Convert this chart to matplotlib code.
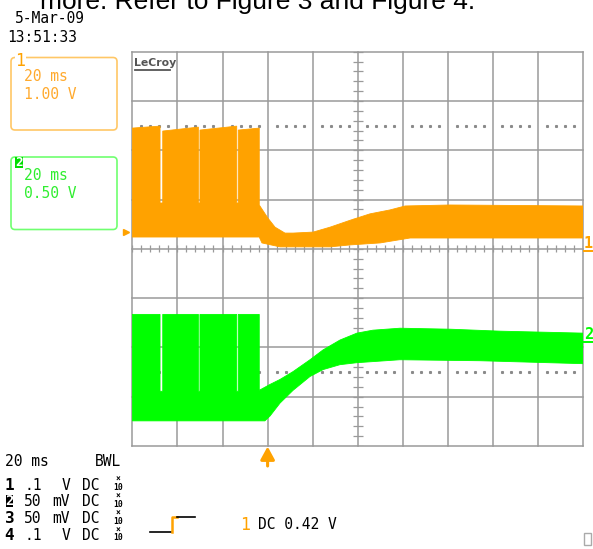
import numpy as np
import matplotlib
matplotlib.use("Agg")
import matplotlib.pyplot as plt
from matplotlib.patches import FancyBboxPatch, Rectangle

# ── Acquisition settings ──
TIME_PER_DIV = 20            # ms / div
T_START = -60                # ms, trigger sits 3 div from the left edge
N_XDIV, N_YDIV = 10, 8
CH1_VOLTS_PER_DIV = 1.00
CH2_VOLTS_PER_DIV = 0.50
CH1_OFFSET_DIV = 0.34        # ground level of channel 1 on screen
CH2_OFFSET_DIV = -3.49       # ground level of channel 2 on screen

# ── Channel 1 (orange): upper / lower envelope of the noisy trace (ms, V) ──
ch1_top_t = [-60, -47.7, -47.7, -46.5, -46.5, -30.7, -30.7, -30.0, -30.0,
             -13.7, -13.7, -13.0, -13.0, -3.7, -3.7, 0.2, 3.3, 7.7, 11.3,
             20.2, 27.7, 36.6, 45.4, 54.3, 61.0, 80.9, 140]
ch1_top_v = [2.11, 2.15, 0.59, 0.59, 2.05, 2.13, 0.59, 0.59, 2.07,
             2.15, 0.59, 0.59, 2.07, 2.11, 0.55, 0.28, 0.10, -0.02, -0.02,
             0.00, 0.10, 0.24, 0.37, 0.45, 0.53, 0.55, 0.53]
ch1_bot_t = [-60, -3.7, -2.5, 5.5, 27.7, 36.6, 49.9, 63.2, 140]
ch1_bot_v = [-0.10, -0.10, -0.22, -0.30, -0.30, -0.26, -0.22, -0.12, -0.12]

# ── Channel 2 (green) ──
ch2_top_t = [-60, -47.7, -47.7, -46.5, -46.5, -30.7, -30.7, -30.0, -30.0,
             -13.7, -13.7, -13.0, -13.0, -3.7, -3.7, 1.1, 5.5, 11.3, 18.8,
             24.6, 32.1, 39.6, 46.7, 58.7, 80.9, 103.1, 140]
ch2_top_v = [1.08, 1.08, 0.30, 0.30, 1.08, 1.08, 0.30, 0.30, 1.08,
             1.08, 0.30, 0.30, 1.08, 1.08, 0.31, 0.37, 0.42, 0.50, 0.62,
             0.72, 0.82, 0.89, 0.92, 0.94, 0.93, 0.91, 0.89]
ch2_bot_t = [-60, -3.8, -1.2, 1.1, 5.5, 11.3, 18.8, 24.6, 32.1, 39.6, 58.7, 94.2, 140]
ch2_bot_v = [0.00, 0.00, 0.00, 0.05, 0.18, 0.31, 0.45, 0.52, 0.57, 0.59, 0.62, 0.61, 0.58]

# ── Screen text ──
caption = "more. Refer to Figure 3 and Figure 4."
date_str, time_str = "5-Mar-09", "13:51:33"
ch_labels = [("1", "20 ms", "1.00 V"), ("2", "20 ms", "0.50 V")]
chan_rows = [("1", ".1", "V", "DC"), ("2", "50", "mV", "DC"),
             ("3", "50", "mV", "DC"), ("4", ".1", "V", "DC")]
timebase_str, bwl_str = "20 ms", "BWL"
trig_str = "DC 0.42 V"

ORANGE = "#ffa200"
GREEN = "#00ff00"
GRID = "#9a9a9a"
MONO = "DejaVu Sans Mono"


def to_div(volts, vpd, offset):
    return np.asarray(volts) / vpd + offset


fig = plt.figure(figsize=(5.93, 5.49), dpi=100)
W, H = 593, 549

# scope graticule (pixel box)
gl, gr, gt, gb = 132.3, 583.3, 51.7, 446.0
ax = fig.add_axes([gl / W, 1 - gb / H, (gr - gl) / W, (gb - gt) / H])
t_end = T_START + N_XDIV * TIME_PER_DIV
ax.set_xlim(T_START, t_end)
ax.set_ylim(-N_YDIV / 2, N_YDIV / 2)
ax.axis("off")

for t in np.arange(T_START, t_end + 1, TIME_PER_DIV):
    ax.plot([t, t], [-4, 4], color=GRID, lw=1.1, zorder=1, clip_on=False)
for d in range(-4, 5):
    ax.plot([T_START, t_end], [d, d], color=GRID, lw=1.1, zorder=1, clip_on=False)

# minor ticks on the centre axes
minor_t = np.arange(T_START, t_end + 0.1, TIME_PER_DIV / 5)
ax.vlines(minor_t, -0.07, 0.07, color=GRID, lw=0.9, zorder=1)
minor_d = np.arange(-4, 4.01, 0.2)
t_mid = (T_START + t_end) / 2
ax.hlines(minor_d, t_mid - 2.2, t_mid + 2.2, color=GRID, lw=0.9, zorder=1)

# dotted reference rows
dot_t = [t for t in minor_t if (t - T_START) % TIME_PER_DIV != 0]
for d in (2.5, -2.5):
    ax.plot(dot_t, [d] * len(dot_t), ls="none", marker="s", ms=1.2,
            color="#8a8a8a", zorder=1)

# traces
ax.fill(np.r_[ch1_top_t, ch1_bot_t[::-1]],
        np.r_[to_div(ch1_top_v, CH1_VOLTS_PER_DIV, CH1_OFFSET_DIV),
              to_div(ch1_bot_v, CH1_VOLTS_PER_DIV, CH1_OFFSET_DIV)[::-1]],
        color=ORANGE, lw=0.6, zorder=3)
ax.fill(np.r_[ch2_top_t, ch2_bot_t[::-1]],
        np.r_[to_div(ch2_top_v, CH2_VOLTS_PER_DIV, CH2_OFFSET_DIV),
              to_div(ch2_bot_v, CH2_VOLTS_PER_DIV, CH2_OFFSET_DIV)[::-1]],
        color=GREEN, lw=0.6, zorder=3)

# ground marker of channel 1
ax.plot(T_START - 2.6, CH1_OFFSET_DIV, marker=">", ms=5, color=ORANGE,
        clip_on=False, zorder=4)

# ── overlay in screen pixels for the annotations ──
ov = fig.add_axes([0, 0, 1, 1])
ov.set_xlim(0, W)
ov.set_ylim(H, 0)
ov.axis("off")

ov.text(40, 9.5, caption, family="Liberation Sans", fontsize=19,
        va="baseline", color="black")
ov.text(15, 23.3, date_str, family=MONO, fontsize=10.5, va="baseline")
ov.text(7, 41.5, time_str, family=MONO, fontsize=10.5, va="baseline")

# channel boxes
box_cfg = [(57.5, ORANGE, "#ffc766", "#ffaa2e"), (157.0, GREEN, "#70ff70", "#30ee30")]
for (num, tb, vd), (y0, c, edge, txt) in zip(ch_labels, box_cfg):
    ov.add_patch(FancyBboxPatch((11, y0), 106, 72.5,
                                boxstyle="round,pad=0,rounding_size=4",
                                fill=False, ec=edge, lw=1.2))
    ov.text(24, y0 + 23.2, tb, family=MONO, fontsize=10.5, va="baseline", color=txt)
    ov.text(24, y0 + 41.5, vd, family=MONO, fontsize=10.5, va="baseline", color=txt)
    if num == "1":
        ov.text(15.5, y0 + 8, num, family=MONO, fontsize=12, va="baseline",
                color=c, bbox=dict(fc="white", ec="none", pad=0.3))
    else:
        ov.add_patch(Rectangle((15, y0), 8, 11, fc="#00dd00", ec="none"))
        ov.text(19, y0 + 5.5, num, family=MONO, fontsize=9, ha="center",
                va="center", color="white", weight="bold")

# LeCroy logo
ov.text(134, 66.5, "LeCroy", family="DejaVu Sans", fontsize=7.8, weight="bold",
        color="#555555", va="baseline")
ov.plot([134.5, 170], [70, 70], color="#555555", lw=1.3)

# right-hand channel markers
for num, y, c in (("1", 248, ORANGE), ("2", 339, GREEN)):
    ov.text(584, y, num, family=MONO, fontsize=11, va="baseline", color=c,
            weight="bold")
    ov.plot([584, 593], [y + 2.5, y + 2.5], color=c, lw=1.4)

# trigger position arrow
ov.annotate("", xy=(267.6, 446.5), xytext=(267.6, 466),
            arrowprops=dict(arrowstyle="-|>,head_width=0.3,head_length=0.55",
                            color=ORANGE, lw=2.2, shrinkA=0, shrinkB=0,
                            mutation_scale=14))

# bottom status block
ov.text(5, 466, timebase_str, family=MONO, fontsize=10.5, va="baseline")
ov.text(95, 466, bwl_str, family=MONO, fontsize=10.5, va="baseline")
row_base = [489.5, 506.5, 523.3, 540.0]
for (num, val, unit, cpl), yb in zip(chan_rows, row_base):
    if num == "2":
        ov.add_patch(Rectangle((5.5, yb - 12), 7.5, 12.5, fc="black", ec="none"))
        ov.text(9.2, yb - 5.8, num, family=MONO, fontsize=10, ha="center",
                va="center", color="white", weight="bold")
    else:
        ov.text(4.5, yb, num, family=MONO, fontsize=11.5, va="baseline",
                weight="bold")
    ov.text(24, yb, val, family=MONO, fontsize=10.5, va="baseline")
    ov.text(62 if unit == "V" else 52, yb, unit, family=MONO, fontsize=10.5,
            va="baseline")
    ov.text(82, yb, cpl, family=MONO, fontsize=10.5, va="baseline")
    # probe attenuation, stacked "x" over "10"
    ov.text(118, yb + 0.5, "\u00d7\n10", family=MONO, fontsize=5.8,
            ha="center", va="baseline", multialignment="center",
            linespacing=0.85, weight="bold")

# trigger slope icon and level
ov.plot([150, 171], [531.7, 531.7], color="black", lw=1.2)
ov.plot([171.5, 171.5, 176.5], [531.7, 516.7, 516.7], color=ORANGE, lw=1.8)
ov.plot([176.5, 195], [516.7, 516.7], color="black", lw=1.2)
ov.text(240.5, 530, "1", family=MONO, fontsize=12, va="baseline", color=ORANGE)
ov.text(258, 529.3, trig_str, family=MONO, fontsize=10.5, va="baseline")

ov.add_patch(Rectangle((583.5, 532.5), 7, 12.5, fill=False, ec="#aaaaaa", lw=1))

fig.savefig("out.png", dpi=100)
